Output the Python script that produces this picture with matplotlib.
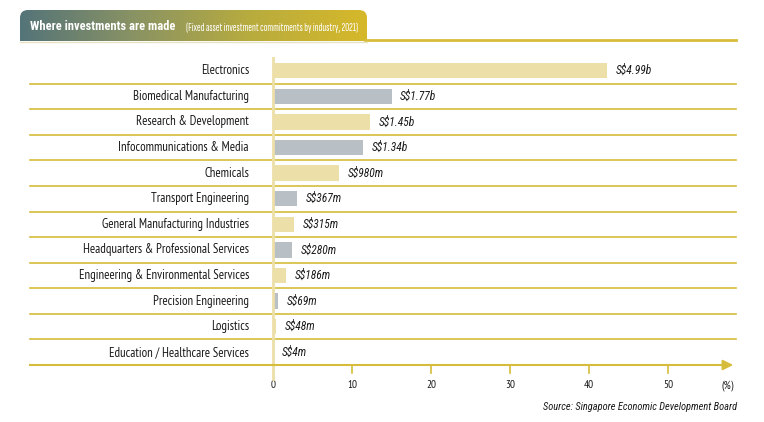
import matplotlib
matplotlib.use("Agg")
import matplotlib.pyplot as plt
import matplotlib.transforms as mtransforms
import numpy as np
from matplotlib.patches import FancyBboxPatch
from matplotlib.colors import LinearSegmentedColormap

categories = ["Electronics", "Biomedical Manufacturing", "Research & Development",
              "Infocommunications & Media", "Chemicals", "Transport Engineering",
              "General Manufacturing Industries", "Headquarters & Professional Services",
              "Engineering & Environmental Services", "Precision Engineering",
              "Logistics", "Education / Healthcare Services"]
shares = [42.3, 15.0, 12.3, 11.4, 8.3, 3.1, 2.7, 2.4, 1.6, 0.6, 0.4, 0.03]
value_labels = ["S$4.99b", "S$1.77b", "S$1.45b", "S$1.34b", "S$980m", "S$367m",
                "S$315m", "S$280m", "S$186m", "S$69m", "S$48m", "S$4m"]
ticks = [0, 10, 20, 30, 40, 50]

FONT = ["PT Sans Narrow", "DejaVu Sans"]
FONT_I = ["Roboto Condensed", "DejaVu Sans"]
FONT_T = ["Sofia Sans Extra Condensed", "Roboto Condensed", "DejaVu Sans"]
FONT_B = ["Roboto Condensed", "DejaVu Sans"]
GOLD = "#D6BC3A"
YEL = "#EDDFA8"
GRAY = "#B8BFC5"
TXT = "#1a1a1a"

W, H = 764, 422
fig = plt.figure(figsize=(W/100, H/100), dpi=100)

def fx(px): return px / W
def fy(py): return 1 - py / H

ax_left, ax_right = 273, 736
ax_top, ax_bot = 58, 365
ax = fig.add_axes([fx(ax_left), fy(ax_bot), fx(ax_right - ax_left), (ax_bot - ax_top) / H])
ppu = 7.9
ax.set_xlim(0, (ax_right - ax_left) / ppu)
n = len(categories)
ax.set_ylim(n - 0.5, -0.5)

y = np.arange(n)
colors = [YEL if i % 2 == 0 else GRAY for i in range(n)]
ax.barh(y, shares, height=0.6, color=colors, zorder=2)
for yi, v, lab in zip(y, shares, value_labels):
    ax.text(v + 1.1, yi, lab, va="center", ha="left", fontsize=8.3, style="italic",
            family=FONT_I, color=TXT)

for s in ["top", "right", "bottom"]:
    ax.spines[s].set_visible(False)
ax.spines["left"].set_color(YEL)
ax.spines["left"].set_linewidth(2)
ax.spines["left"].set_bounds(n + 0.05, -0.5)

# separators
xmin_frac = (30 - ax_left) / (ax_right - ax_left)
for k in range(n - 1):
    ax.axhline(k + 0.5, xmin=xmin_frac, xmax=1, color=GOLD, lw=1.2, clip_on=False, zorder=1)
ax.axhline(n - 0.5, xmin=xmin_frac, xmax=0.985, color=GOLD, lw=1.5, clip_on=False, zorder=3)
ax.annotate("", xy=(1.0, n - 0.5), xycoords=("axes fraction", "data"),
            xytext=(0.975, n - 0.5),
            arrowprops=dict(arrowstyle="-|>,head_length=0.6,head_width=0.3", color=GOLD, lw=1.5),
            annotation_clip=False)

ax.set_yticks([])
ax.set_xticks(ticks)
ax.set_xticklabels([str(t) for t in ticks], family=FONT, fontsize=8, color=TXT)
ax.tick_params(axis="x", length=0, pad=11)
for t in ticks[1:]:
    ax.plot([t, t], [n - 0.5, n - 0.2], color=GOLD, lw=1.2, clip_on=False, zorder=3)
ax.text(58.4, n + 0.3, "(%)", ha="right", va="center", fontsize=8, family=FONT, color=TXT)

lab_tr = mtransforms.blended_transform_factory(fig.transFigure, ax.transData)
for yi, c in zip(y, categories):
    ax.text(fx(249), yi, c, transform=lab_tr, ha="right", va="center",
            fontsize=9.2, family=FONT, color=TXT)

# header
hx0, hx1, hy0, hy1 = 20, 367, 10, 41
grad = np.linspace(0, 1, 256).reshape(1, -1)
cmap = LinearSegmentedColormap.from_list("hdr", ["#547479", "#8A9363", "#B8AC3E", "#D6B82A"])
hax = fig.add_axes([0, 0, 1, 1], zorder=-1)
hax.set_xlim(0, W); hax.set_ylim(H, 0); hax.axis("off")
box = FancyBboxPatch((hx0 + 8, hy0 + 8), hx1 - hx0 - 16, hy1 - hy0 - 16,
                     boxstyle="round,pad=8", transform=hax.transData, facecolor="none", edgecolor="none")
hax.add_patch(box)
im = hax.imshow(grad, extent=[hx0, hx1, hy1, hy0], cmap=cmap, aspect="auto")
im.set_clip_path(box)
hax.imshow(grad, extent=[hx0, hx1, hy1, hy0 + 15], cmap=cmap, aspect="auto")
hax.plot([hx1 - 2, 736], [40, 40], color=GOLD, lw=2)
hax.plot([hx0, hx1], [41.5, 41.5], color="#E6E2C4", lw=1)
hax.set_xlim(0, W); hax.set_ylim(H, 0)

fig.text(fx(30), fy(26.5), "Where investments are made", fontsize=9, weight="bold",
         family=FONT_B, color="white", va="center", ha="left")
fig.text(fx(186), fy(27.5), "(Fixed asset investment commitments by industry, 2021)", fontsize=8,
         family=FONT_T, color="white", va="center", ha="left")
fig.text(fx(737), fy(407), "Source: Singapore Economic Development Board", fontsize=7.5,
         style="italic", family=FONT_I, color=TXT, va="center", ha="right")

fig.savefig("out.png", dpi=100)
